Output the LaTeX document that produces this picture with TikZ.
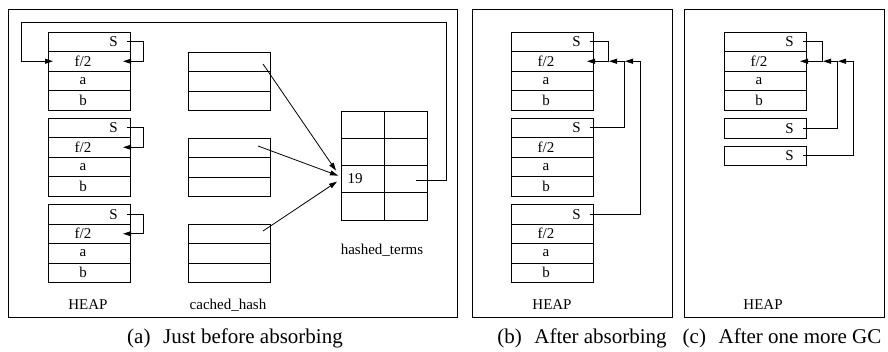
\documentclass[tikz,border=0pt]{standalone}
\usepackage{fontspec}
\setmainfont{Liberation Serif}
\usetikzlibrary{arrows.meta}
\newcommand\lbfont{\fontsize{15}{18}\selectfont}
\newcommand\capfont{\fontsize{21}{25}\selectfont}
\tikzset{
  cell/.style={draw, line width=0.9pt, minimum width=82pt, minimum height=19.5pt,
    inner sep=0pt, outer sep=0pt, anchor=north west},
  hcell/.style={draw, line width=0.9pt, minimum width=43pt, minimum height=27.25pt,
    inner sep=0pt, outer sep=0pt, anchor=north west},
  lbl/.style={font=\lbfont, inner sep=0pt},
  conn/.style={line width=0.8pt},
  arr/.style={conn, -{Triangle[length=8pt,width=5pt]}},
  frame/.style={draw, line width=0.9pt},
}
% heap object with four rows: name, left x, top y
\newcommand\heapobj[3]{%
  \node[cell] (#1s) at (#2,#3) {};
  \node[cell] (#1f) at (#2,#3+19.5) {};
  \node[cell] (#1a) at (#2,#3+39) {};
  \node[cell] (#1b) at (#2,#3+58.5) {};
  \node[lbl, anchor=east] (#1sl) at (#2+70,#3+9.75) {S};
  \node[lbl] (#1fl) at (#2+35,#3+29.25) {f/2};
  \node[lbl] (#1al) at (#2+35,#3+48.75) {a};
  \node[lbl] (#1bl) at (#2+35,#3+68.25) {b};
}
% cached hash block with three rows
\newcommand\hashobj[3]{%
  \node[cell] (#1r1) at (#2,#3) {};
  \node[cell] (#1r2) at (#2,#3+19.5) {};
  \node[cell] (#1r3) at (#2,#3+39) {};
}
\begin{document}
\begin{tikzpicture}[x=1pt,y=-1pt]
\useasboundingbox (0,0) rectangle (888,352);

% frames
\draw[frame] (8,9) rectangle (457,317);
\draw[frame] (472,9) rectangle (672,317);
\draw[frame] (684,9) rectangle (884,317);

% ---------- panel (a)
\heapobj{A1}{48}{32}
\heapobj{A2}{48}{118}
\heapobj{A3}{48}{204.5}
\hashobj{K1}{188}{52}
\hashobj{K2}{188}{138}
\hashobj{K3}{188}{224}

\foreach \r/\y in {1/111,2/138.25,3/165.5,4/192.75}{
  \node[hcell] (h\r1) at (341,\y) {};
  \node[hcell] (h\r2) at (384,\y) {};
}
\node[lbl] (n19) at (355,179) {19};
\node[lbl] (hlab) at (382,250) {hashed\_terms};
\node[lbl] (heapa) at (88,305) {HEAP};
\node[lbl] (chlab) at (228,305) {cached\_hash};

% self references of S
\foreach \o in {A1,A2,A3}{
  \draw[arr] ([xshift=-3pt]\o s.east) -- ++(16,0) |- ([xshift=-7pt]\o f.east);
}
% hashed_terms entry back to first f/2
\coordinate (hstart) at (416,180);
\coordinate (hturn) at (446,22);
\draw[arr] (hstart) -| (hturn) -| (21,61.25) -- ([xshift=5pt]A1f.west);

% cached_hash to 19
\coordinate (k1p) at (263,64);
\coordinate (k2p) at (258,146);
\coordinate (k3p) at (263,231);
\draw[arr] (k1p) -- ([xshift=-5pt,yshift=8.5pt]h31.west);
\draw[arr] (k2p) -- ([xshift=-3pt,yshift=3.5pt]h31.west);
\draw[arr] (k3p) -- ([xshift=-4pt,yshift=-2.5pt]h31.west);

% ---------- panel (b)
\heapobj{B1}{511}{32}
\heapobj{B2}{511}{118}
\heapobj{B3}{511}{204.5}
\node[lbl] (heapb) at (552,305) {HEAP};
\coordinate (jb1) at (608,61.25);
\coordinate (jb2) at (624,61.25);
\coordinate (jb3) at (640,61.25);
\draw[arr] ([xshift=-3pt]B1s.east) -| (jb1) -- ([xshift=-6pt]B1f.east);
\draw[arr] ([xshift=-3pt]B2s.east) -| (jb2) -- ([xshift=1pt]jb1);
\draw[arr] ([xshift=-3pt]B3s.east) -| (jb3) -- ([xshift=1pt]jb2);

% ---------- panel (c)
\heapobj{C1}{724}{32}
\node[cell] (C2s) at (724,118.5) {};
\node[lbl, anchor=east] (C2sl) at (794,128.25) {S};
\node[cell] (C3s) at (724,146) {};
\node[lbl, anchor=east] (C3sl) at (794,155.75) {S};
\node[lbl] (heapc) at (763,305) {HEAP};
\coordinate (jc1) at (822,61.25);
\coordinate (jc2) at (837,61.25);
\coordinate (jc3) at (853,61.25);
\draw[arr] ([xshift=-3pt]C1s.east) -| (jc1) -- ([xshift=-6pt]C1f.east);
\draw[arr] ([xshift=-3pt]C2s.east) -| (jc2) -- ([xshift=1pt]jc1);
\draw[arr] ([xshift=-3pt]C3s.east) -| (jc3) -- ([xshift=1pt]jc2);

% captions
\node[font=\capfont, inner sep=0pt] (capa) at (235,338) {(a)\hspace{0.6em}Just before absorbing};
\node[font=\capfont, inner sep=0pt] (capb) at (582,338) {(b)\hspace{0.6em}After absorbing};
\node[font=\capfont, inner sep=0pt] (capc) at (782,338) {(c)\hspace{0.6em}After one more GC};
\end{tikzpicture}
\end{document}
